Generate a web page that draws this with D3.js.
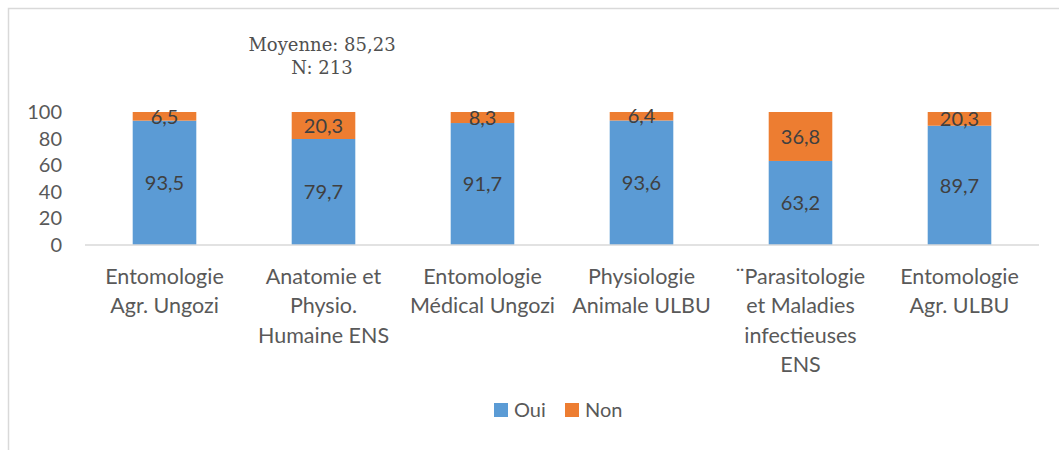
<!DOCTYPE html>
<html><head><meta charset="utf-8">
<script src="https://cdn.jsdelivr.net/npm/d3@7"></script>
<style>body{margin:0;background:#fff;}svg{display:block;}</style>
</head><body>
<svg id="c" width="1059" height="450"></svg>
<script>
const categories = [
  ["Entomologie","Agr. Ungozi"],
  ["Anatomie et","Physio.","Humaine ENS"],
  ["Entomologie","Médical Ungozi"],
  ["Physiologie","Animale ULBU"],
  ["¨Parasitologie","et Maladies","infectieuses","ENS"],
  ["Entomologie","Agr. ULBU"]
];
const oui = [93.5, 79.7, 91.7, 93.6, 63.2, 89.7];
const non = [6.5, 20.3, 8.3, 6.4, 36.8, 20.3];
const yTicks = [0, 20, 40, 60, 80, 100];
const seriesNames = ["Oui", "Non"];
const titleLines = ["Moyenne: 85,23", "N: 213"];

const svg = d3.select("#c");
const colors = {Oui: "#5B9BD5", Non: "#ED7D31"};
const font = "Lato, 'Open Sans', sans-serif";

// chart frame
svg.append("rect").attr("x", 8.5).attr("y", 8.5).attr("width", 1100).attr("height", 500)
  .attr("fill", "none").attr("stroke", "#d9d9d9").attr("stroke-width", 1.5);

const x = d3.scaleBand().domain(d3.range(categories.length)).range([85, 1039]).paddingInner(0.6).paddingOuter(0.3);
const y = d3.scaleLinear().domain([0, 100]).range([245, 112]).clamp(true);

svg.append("defs").append("clipPath").attr("id", "plot")
  .append("rect").attr("x", 85).attr("y", y(100)).attr("width", 954).attr("height", y(0) - y(100));

const stackData = categories.map((c, i) => ({i, Oui: oui[i], Non: non[i]}));
const stack = d3.stack().keys(seriesNames)(stackData);

const g = svg.append("g").attr("clip-path", "url(#plot)");
stack.forEach(s => {
  g.selectAll(null).data(s).enter().append("rect")
    .attr("x", d => x(d.data.i))
    .attr("width", x.bandwidth())
    .attr("y", d => y(d[1]))
    .attr("height", d => y(d[0]) - y(d[1]))
    .attr("fill", colors[s.key]);
});

// baseline
svg.append("line").attr("x1", 85).attr("x2", 1039).attr("y1", y(0)).attr("y2", y(0))
  .attr("stroke", "#d9d9d9").attr("stroke-width", 1.5);

// y axis
const yAxis = d3.axisLeft(y).tickValues(yTicks).tickSize(0).tickPadding(0);
const ya = svg.append("g").attr("transform", "translate(62,0)").call(yAxis);
ya.select(".domain").remove();
ya.selectAll("text").attr("font-family", font).attr("font-size", 20).attr("fill", "#595959");

// data labels
stack.forEach(s => {
  svg.selectAll(null).data(s).enter().append("text")
    .attr("x", d => x(d.data.i) + x.bandwidth() / 2)
    .attr("y", d => (y(d[0]) + y(d[1])) / 2)
    .attr("dy", "0.36em")
    .attr("text-anchor", "middle")
    .attr("font-family", font).attr("font-size", 20).attr("fill", "#404040")
    .text(d => String(d.data[s.key]).replace(".", ","));
});

// x labels
const xl = svg.append("g");
categories.forEach((lines, i) => {
  const t = xl.append("text").attr("text-anchor", "middle")
    .attr("font-family", font).attr("font-size", 21.5).attr("fill", "#595959");
  lines.forEach((ln, k) => {
    t.append("tspan").attr("x", x(i) + x.bandwidth() / 2).attr("y", 284 + k * 29.3).text(ln);
  });
});

// title
titleLines.forEach((ln, k) => {
  svg.append("text").attr("x", 322).attr("y", 51 + k * 23).attr("text-anchor", "middle")
    .attr("font-family", "'DejaVu Serif', serif").attr("font-size", 18).attr("fill", "#505050")
    .text(ln);
});

// legend
const leg = svg.append("g");
const legX = [494, 565];
seriesNames.forEach((n, k) => {
  leg.append("rect").attr("x", legX[k]).attr("y", 403).attr("width", 14).attr("height", 14).attr("fill", colors[n]);
  leg.append("text").attr("x", legX[k] + 20).attr("y", 410).attr("dy", "0.36em")
    .attr("font-family", font).attr("font-size", 20).attr("fill", "#595959").text(n);
});
</script>
</body></html>
